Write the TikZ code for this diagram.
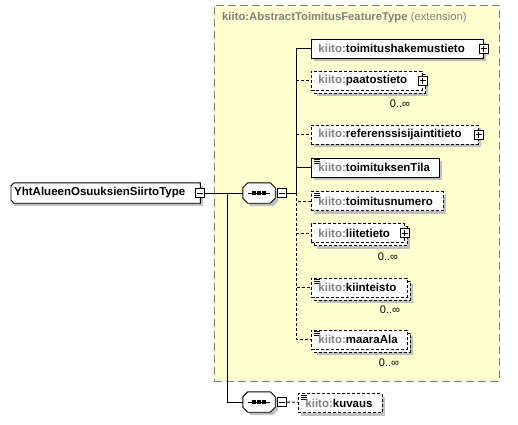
\documentclass[tikz,border=0pt]{standalone}
\usepackage{fontspec}
\setmainfont{Liberation Sans}
\usetikzlibrary{positioning,shadows}
\definecolor{extfill}{RGB}{255,255,208}
\definecolor{extline}{RGB}{128,128,128}
\definecolor{nsgray}{RGB}{128,128,128}
\definecolor{shadowgray}{RGB}{192,192,192}
\newcommand{\ns}{{\color{nsgray}kiito:}}
\tikzset{
    gray shadow/.style={drop shadow={shadow xshift=#1, shadow yshift=-#1, fill=shadowgray, opacity=1}},
    elem/.style={draw, solid, fill=white, line width=0.9pt, anchor=west, minimum height=19pt, inner xsep=7pt, inner ysep=0pt, align=left, font=\fontsize{11.5}{13}\selectfont\bfseries, gray shadow=3pt},
    opt elem/.style={elem, dash pattern=on 3pt off 2pt},
    multi elem/.style={opt elem, gray shadow=6pt, copy shadow={draw=black, fill=white, dash pattern=on 3pt off 2pt, shadow xshift=3pt, shadow yshift=-3pt}},
    simple/.style={path picture={
        \foreach \d in {1.8,3.8,5.8}
            \draw[solid, line width=0.8pt] ([xshift=2.5pt,yshift=-\d pt]path picture bounding box.north west) -- ++(6pt,0pt);
    }},
    pm box/.style={draw, solid, fill=white, line width=0.9pt, minimum size=9pt, inner sep=0pt},
    plus/.style={pm box, path picture={
        \draw[solid, line width=0.9pt] ([xshift=-3pt]path picture bounding box.center) -- ([xshift=3pt]path picture bounding box.center)
            ([yshift=-3pt]path picture bounding box.center) -- ([yshift=3pt]path picture bounding box.center);
    }},
    minus/.style={pm box, path picture={
        \draw[solid, line width=0.9pt] ([xshift=-3pt]path picture bounding box.center) -- ([xshift=3pt]path picture bounding box.center);
    }},
    seq/.style={rectangle, minimum width=32pt, minimum height=20pt, inner sep=0pt},
    seq outline/.style={draw, fill=white, line width=0.9pt, gray shadow=3pt},
    ctype/.style={rectangle, fill=white, anchor=west, minimum height=20pt, inner xsep=3pt, inner ysep=0pt, align=left, font=\fontsize{11.5}{13}\selectfont\bfseries, gray shadow=3pt},
    ctype outline/.style={draw, line width=0.9pt},
    ext box/.style={draw=extline, fill=extfill, line width=0.9pt, dash pattern=on 8pt off 4pt, anchor=north west, inner sep=0pt},
    conn/.style={line width=0.9pt},
    opt conn/.style={conn, dash pattern=on 3pt off 2pt},
    mult/.style={font=\fontsize{11}{12}\selectfont, inner sep=0pt}
}
% octagon with the three dots of a sequence
\newcommand{\seqmark}[1]{%
    \draw[seq outline] ([xshift=5pt]#1.north west) -- ([xshift=-5pt]#1.north east) -- ([yshift=-5pt]#1.north east)
        -- ([yshift=5pt]#1.south east) -- ([xshift=-5pt]#1.south east) -- ([xshift=5pt]#1.south west)
        -- ([yshift=5pt]#1.south west) -- ([yshift=-5pt]#1.north west) -- cycle;
    \draw[line width=0.9pt] ([xshift=-11pt]#1.center) -- ([xshift=11pt]#1.center);
    \foreach \d in {-5,0,5}
        \fill ([xshift=\d pt]#1.center) +(-1.6pt,-1.6pt) rectangle +(1.6pt,1.6pt);
}
\begin{document}
\begin{tikzpicture}[x=1pt, y=-1pt]
    \useasboundingbox (0,0) rectangle (518,424);

    % Extension box
    \node[ext box, minimum width=285pt, minimum height=376pt] (ext) at (214,5) {};
    \node[anchor=west, inner sep=0pt, text=nsgray, font=\fontsize{11.3}{13}\selectfont\bfseries] (ext-title) at (222,18) {kiito:AbstractToimitusFeatureType {\mdseries(extension)}};

    % Complex type
    \node[ctype, text width=183pt] (main) at (11,193) {YhtAlueenOsuuksienSiirtoType};
    \draw[ctype outline] ([xshift=3pt]main.north west) -- (main.north east) -- (main.south east)
        -- ([xshift=3pt]main.south west) -- ([yshift=3pt]main.south west) -- ([yshift=-3pt]main.north west) -- cycle;
    \node[minus] (main-minus) at (main.east) {};
    \coordinate (branch) at (227,193);

    % Sequences
    \node[seq] (seq1) at (259,193) {};
    \seqmark{seq1}
    \node[minus, right=2pt of seq1] (seq1-minus) {};
    \coordinate (fork) at (296,193);
    \node[seq] (seq2) at (259,402) {};
    \seqmark{seq2}
    \node[minus, right=2pt of seq2] (seq2-minus) {};

    % Elements of the extension
    \node[elem, text width=158pt] (hak) at (311,48.5) {\ns toimitushakemustieto};
    \node[plus] (hak-plus) at (hak.east) {};
    \node[multi elem, text width=97pt] (paatos) at (311,80.5) {\ns paatostieto};
    \node[plus] (paatos-plus) at (paatos.east) {};
    \node[mult] (paatos-n) at (400,104) {0..∞};
    \node[opt elem, text width=153pt] (ref) at (311,134.5) {\ns referenssisijaintitieto};
    \node[plus] (ref-plus) at (ref.east) {};
    \node[elem, simple, text width=114pt] (tila) at (311,167.5) {\ns toimituksenTila};
    \node[opt elem, simple, text width=118pt] (numero) at (311,201) {\ns toimitusnumero};
    \node[multi elem, text width=79pt] (liite) at (311,233) {\ns liitetieto};
    \node[plus] (liite-plus) at (liite.east) {};
    \node[mult] (liite-n) at (388,257) {0..∞};
    \node[multi elem, simple, text width=82pt] (kiint) at (311,287.5) {\ns kiinteisto};
    \node[mult] (kiint-n) at (390,310) {0..∞};
    \node[multi elem, simple, text width=82pt] (maara) at (311,339.5) {\ns maaraAla};
    \node[mult] (maara-n) at (389,363) {0..∞};

    % Element after the extension
    \node[opt elem, simple, text width=70pt] (kuvaus) at (298,403) {\ns kuvaus};

    % Connectors
    \draw[conn] (main-minus) -- (seq1);
    \draw[conn] (branch) |- (seq2);
    \draw[conn] (seq1-minus) -- (fork);
    \draw[conn] (fork) |- (hak);
    \draw[conn] (fork) |- (tila);
    \draw[opt conn] (fork |- paatos.west) -- (paatos);
    \draw[opt conn] (fork |- ref.west) -- (ref);
    \draw[opt conn] (fork) |- (numero);
    \draw[opt conn] (fork) |- (liite);
    \draw[opt conn] (fork) |- (kiint);
    \draw[opt conn] (fork) |- (maara);
    \draw[opt conn] (seq2-minus) -- (kuvaus);
\end{tikzpicture}
\end{document}
